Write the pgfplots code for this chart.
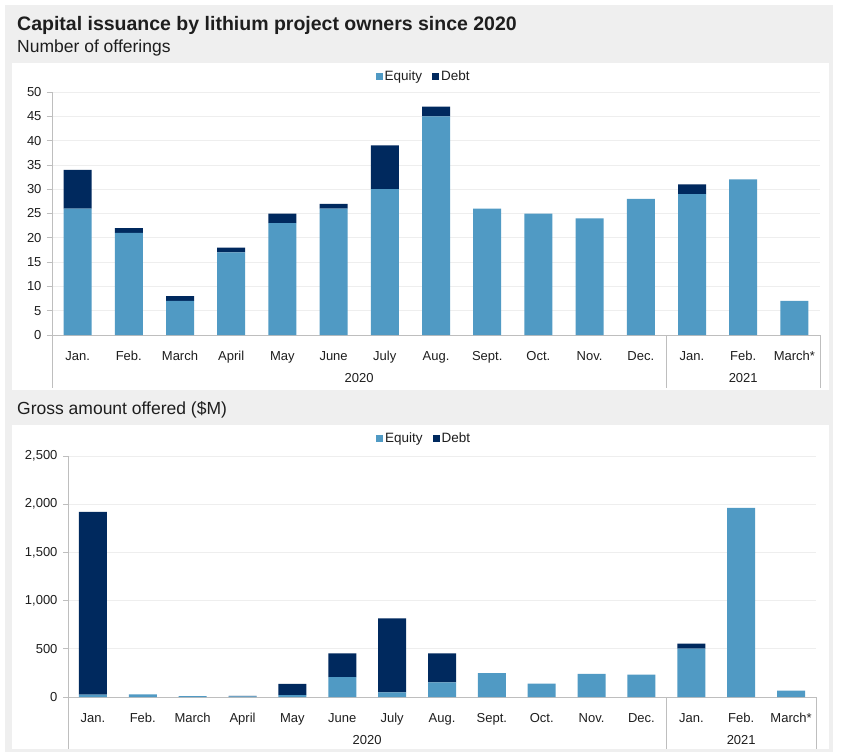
\documentclass[border=0pt]{standalone}
\usepackage{fontspec}
\setmainfont{Liberation Sans}
\usepackage{pgfplots}
\pgfplotsset{compat=1.18}

\definecolor{eq}{RGB}{80,154,196}
\definecolor{debt}{RGB}{0,41,94}
\definecolor{panel}{RGB}{239,239,239}
\definecolor{gridc}{RGB}{238,238,238}
\definecolor{axl}{RGB}{190,190,190}
\definecolor{txt}{RGB}{30,30,30}

\pgfplotsset{
  capstyle/.style={
    scale only axis, ybar stacked, bar width=28pt,
    xmin=-0.5, xmax=14.5, ymin=0,
    xtick={0,...,14},
    xticklabels={Jan.,Feb.,March,April,May,June,July,Aug.,Sept.,Oct.,Nov.,Dec.,Jan.,Feb.,March*},
    axis x line*=bottom, axis y line*=left,
    axis line style={axl, line width=0.8pt},
    x tick style={draw=none},
    y tick style={axl, line width=0.8pt},
    tick align=outside, major tick length=5pt,
    ymajorgrids, grid style={gridc, line width=0.8pt},
    tick label style={font=\fontsize{13}{15}\selectfont, text=txt},
    xticklabel style={yshift=-8pt},
    yticklabel style={xshift=-2pt},
    /pgf/number format/assume math mode=true,
    /pgf/number format/1000 sep={,},
    clip=false,
    legend columns=2,
    legend style={draw=none, fill=none, font=\fontsize{13.5}{15}\selectfont, text=txt,
      /tikz/every even column/.append style={column sep=8pt}},
    legend image code/.code={\fill[##1] (0pt,-3.5pt) rectangle (7pt,3.5pt);},
  }
}

\begin{document}
\begin{tikzpicture}
\useasboundingbox (0pt,0pt) rectangle (853pt,-754pt);
\fill[white] (0pt,0pt) rectangle (853pt,-754pt);
\fill[panel] (5pt,-5pt) rectangle (833pt,-752pt);
\fill[white] (12pt,-63pt) rectangle (829pt,-390pt);
\fill[white] (12pt,-425pt) rectangle (829pt,-749pt);

\node[anchor=base west, inner sep=0pt, text=txt, font=\bfseries\fontsize{19.5}{22}\selectfont]
  at (17pt,-31pt) {Capital issuance by lithium project owners since 2020};
\node[anchor=base west, inner sep=0pt, text=txt, font=\fontsize{17.5}{20}\selectfont]
  at (17pt,-53pt) {Number of offerings};
\node[anchor=base west, inner sep=0pt, text=txt, font=\fontsize{17.5}{20}\selectfont]
  at (17pt,-414pt) {Gross amount offered (\$M)};

% Number of offerings
\begin{axis}[capstyle,
  at={(52pt,-335pt)}, anchor=south west,
  width=768pt, height=243pt,
  ymax=50, ytick={0,5,...,50},
  legend style={at={(0.484,1)}, anchor=center, yshift=16pt},
]
\addplot[fill=eq, draw=none] coordinates {
  (0,26) (1,21) (2,7) (3,17) (4,23) (5,26) (6,30) (7,45)
  (8,26) (9,25) (10,24) (11,28) (12,29) (13,32) (14,7)};
\addplot[fill=debt, draw=none] coordinates {
  (0,8) (1,1) (2,1) (3,1) (4,2) (5,1) (6,9) (7,2)
  (8,0) (9,0) (10,0) (11,0) (12,2) (13,0) (14,0)};
\legend{Equity,Debt}
\draw[axl, line width=0.8pt] (axis cs:-0.5,0) -- ++(0pt,-53pt);
\draw[axl, line width=0.8pt] (axis cs:11.5,0) -- ++(0pt,-53pt);
\draw[axl, line width=0.8pt] (axis cs:14.5,0) -- ++(0pt,-53pt);
\node[text=txt, font=\fontsize{13}{15}\selectfont] at (axis cs:5.5,0) [yshift=-43pt] {2020};
\node[text=txt, font=\fontsize{13}{15}\selectfont] at (axis cs:13,0) [yshift=-43pt] {2021};
\end{axis}

% Gross amount offered
\begin{axis}[capstyle,
  at={(68pt,-697pt)}, anchor=south west,
  width=748pt, height=241pt,
  ymax=2500, ytick={0,500,...,2500},
  legend style={at={(0.476,1)}, anchor=center, yshift=18pt},
]
\addplot[fill=eq, draw=none] coordinates {
  (0,25) (1,28) (2,10) (3,7) (4,20) (5,207) (6,48) (7,152)
  (8,249) (9,138) (10,239) (11,232) (12,501) (13,1961) (14,66)};
\addplot[fill=debt, draw=none] coordinates {
  (0,1895) (1,0) (2,0) (3,4) (4,115) (5,246) (6,768) (7,301)
  (8,0) (9,0) (10,0) (11,0) (12,52) (13,0) (14,0)};
\legend{Equity,Debt}
\draw[axl, line width=0.8pt] (axis cs:-0.5,0) -- ++(0pt,-52pt);
\draw[axl, line width=0.8pt] (axis cs:11.5,0) -- ++(0pt,-52pt);
\draw[axl, line width=0.8pt] (axis cs:14.5,0) -- ++(0pt,-52pt);
\node[text=txt, font=\fontsize{13}{15}\selectfont] at (axis cs:5.5,0) [yshift=-43pt] {2020};
\node[text=txt, font=\fontsize{13}{15}\selectfont] at (axis cs:13,0) [yshift=-43pt] {2021};
\end{axis}
\end{tikzpicture}
\end{document}
